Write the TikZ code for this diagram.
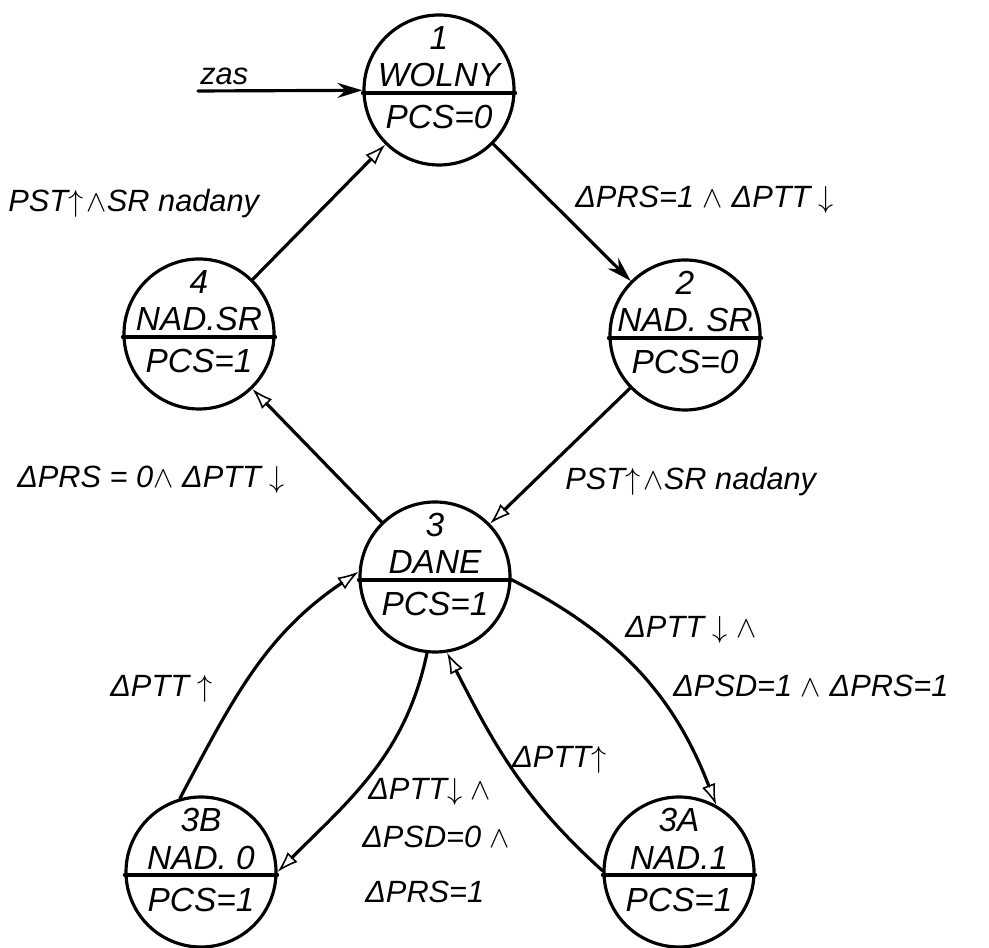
\documentclass[tikz,border=0pt]{standalone}
\usepackage{fontspec}
\setmainfont{Liberation Sans}
\usetikzlibrary{arrows.meta}

\begin{document}
\begin{tikzpicture}[
			line cap=round,
			line join=round,
			every node/.style={font=\itshape\fontsize{17.5}{20}\selectfont},
			stan/.style={draw, circle, minimum size=3cm, inner sep=0pt, line width=1.8pt},
			txt/.style={anchor=base, inner sep=0pt, font=\itshape\fontsize{19}{22}\selectfont},
			lab/.style={anchor=base west, inner sep=0pt},
			edge/.style={line width=1.8pt},
			pelna/.style={edge, -{Stealth[length=5mm,width=3mm]}},
			pusta/.style={edge, -{Latex[open,length=4.2mm,width=2.8mm,line width=0.9pt]}}
			]
			\useasboundingbox (0,0) rectangle (19.78,18.94);
			
			% states
			\foreach \n/\px/\py/\nr/\nazwa/\pcs in {
				1/8.78/17.14/1/WOLNY/PCS=0,
				2/13.70/12.24/2/NAD. SR/PCS=0,
				4/3.98/12.26/4/NAD.SR/PCS=1,
				3/8.70/7.40/3/DANE/PCS=1,
				3b/4.02/1.50/3B/NAD. 0/PCS=1,
				3a/13.58/1.50/3A/NAD.1/PCS=1}
			{
				\node[stan] (s\n) at (\px,\py) {};
				\draw[edge] ([yshift=-0.6mm]s\n.west) -- ([yshift=-0.6mm]s\n.east);
				\node[txt] (s\n-nr) at (\px,\py+0.80) {\nr};
				\node[txt] (s\n-nazwa) at (\px,\py+0.06) {\nazwa};
				\node[txt] (s\n-pcs) at (\px,\py-0.78) {\pcs};
			}
			
			% start
			\coordinate (zas) at (3.96,17.12);
			\node[lab] (zas-lab) at (4.00,17.24) {zas};
			\draw[pelna] (zas) -- (s1);
			
			% transitions
			\draw[pelna] (s1) -- (s2);
			\draw[pusta] (s4) -- (s1);
			\draw[pusta] (s2) -- (s3);
			\draw[pusta] (s3) -- (s4);
			\draw[pusta] (s3b.106) to[out=62,in=214] (s3.176);
			\draw[pusta] (s3.264) to[out=258,in=45] (s3b.0);
			\draw[pusta] (s3.-2) to[out=333,in=111] (s3a.61);
			\draw[pusta] (s3a.179) to[out=138,in=297] (s3.279);
			
			% labels
			\node[lab] (l12) at (11.50,14.78) {ΔPRS=1 $\wedge$ ΔPTT $\downarrow$};
			\node[lab] (l41) at (0.16,14.70) {PST$\uparrow\!\wedge$SR nadany};
			\node[lab] (l34) at (0.34,9.18) {ΔPRS = 0$\wedge$ ΔPTT $\downarrow$};
			\node[lab] (l23) at (11.30,9.14) {PST$\uparrow\!\wedge$SR nadany};
			\node[lab] (l3b3) at (2.20,5.00) {ΔPTT $\uparrow$};
			\node[lab] (l33b-a) at (7.36,2.94) {ΔPTT$\downarrow\wedge$};
			\node[lab] (l33b-b) at (7.24,1.98) {ΔPSD=0 $\wedge$};
			\node[lab] (l33b-c) at (7.30,0.90) {ΔPRS=1};
			\node[lab] (l33a-a) at (12.50,6.18) {ΔPTT $\downarrow$ $\wedge$};
			\node[lab] (l33a-b) at (13.46,5.00) {ΔPSD=1 $\wedge$ ΔPRS=1};
			\node[lab] (l3a3) at (10.24,3.58) {ΔPTT$\uparrow$};
		\end{tikzpicture}
\end{document}
